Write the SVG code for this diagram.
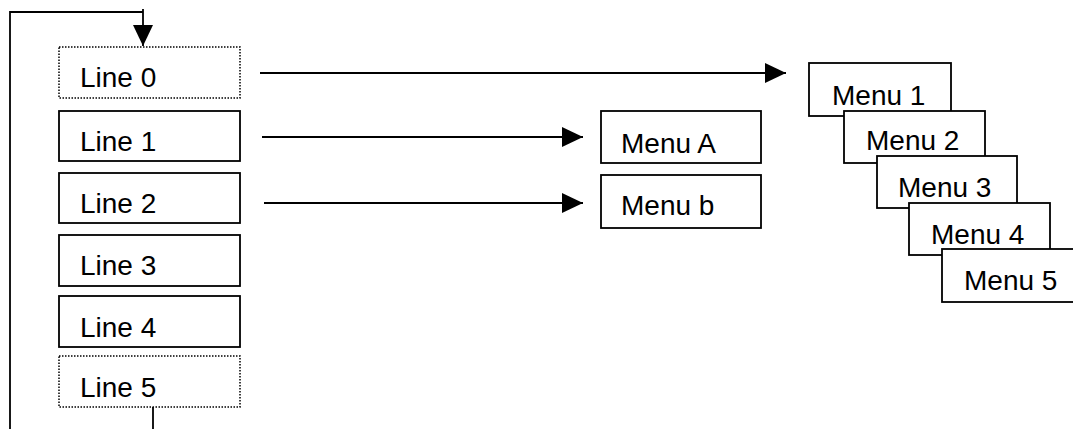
<svg xmlns="http://www.w3.org/2000/svg" width="1073" height="429" viewBox="0 0 1073 429">
<style>
.box{fill:#fff;stroke:#000;stroke-width:1.8}
.dot{fill:#fff;stroke:#000;stroke-width:1.5;stroke-dasharray:1.5 1.5}
.t{font-family:"Liberation Sans",Arial,sans-serif;font-size:28px;fill:#000}
.c{fill:none;stroke:#000;stroke-width:1.8}
</style>
<defs>
<marker id="ah" markerUnits="userSpaceOnUse" markerWidth="22" markerHeight="22" viewBox="0 0 22 22" refX="21" refY="11" orient="auto">
<polygon points="0,1 21,11 0,21" fill="#000"/>
</marker>
</defs>
<g id="connectors">
<polyline class="c" points="153,407 153,429"/>
<polyline class="c" points="10,429 10,12 143,12"/>
<line class="c" x1="143" y1="9" x2="143" y2="46" marker-end="url(#ah)"/>
<line class="c" x1="260" y1="73" x2="786" y2="73" marker-end="url(#ah)"/>
<line class="c" x1="262" y1="137" x2="583" y2="137" marker-end="url(#ah)"/>
<line class="c" x1="264" y1="203" x2="583" y2="203" marker-end="url(#ah)"/>
</g>
<g id="line0"><rect class="dot" x="59" y="47" width="181" height="51"/><text class="t" x="80" y="87">Line 0</text></g>
<g id="line1"><rect class="box" x="59" y="111" width="181" height="50"/><text class="t" x="80" y="151">Line 1</text></g>
<g id="line2"><rect class="box" x="59" y="173" width="181" height="50"/><text class="t" x="80" y="213">Line 2</text></g>
<g id="line3"><rect class="box" x="59" y="235" width="181" height="51"/><text class="t" x="80" y="275">Line 3</text></g>
<g id="line4"><rect class="box" x="59" y="296" width="181" height="51"/><text class="t" x="80" y="337">Line 4</text></g>
<g id="line5"><rect class="dot" x="59" y="356" width="181" height="51"/><text class="t" x="80" y="397">Line 5</text></g>
<g id="menuA"><rect class="box" x="601" y="111" width="160" height="52"/><text class="t" x="621" y="153">Menu A</text></g>
<g id="menub"><rect class="box" x="601" y="175" width="160" height="53"/><text class="t" x="621" y="215">Menu b</text></g>
<g id="menu1"><rect class="box" x="809" y="63" width="142" height="53"/><text class="t" x="832" y="105">Menu 1</text></g>
<g id="menu2"><rect class="box" x="844" y="111" width="141" height="52"/><text class="t" x="866" y="150">Menu 2</text></g>
<g id="menu3"><rect class="box" x="877" y="156" width="140" height="52"/><text class="t" x="898" y="197">Menu 3</text></g>
<g id="menu4"><rect class="box" x="909" y="203" width="141" height="52"/><text class="t" x="931" y="244">Menu 4</text></g>
<g id="menu5"><rect class="box" x="942" y="249" width="142" height="53"/><text class="t" x="964" y="290">Menu 5</text></g>
</svg>
